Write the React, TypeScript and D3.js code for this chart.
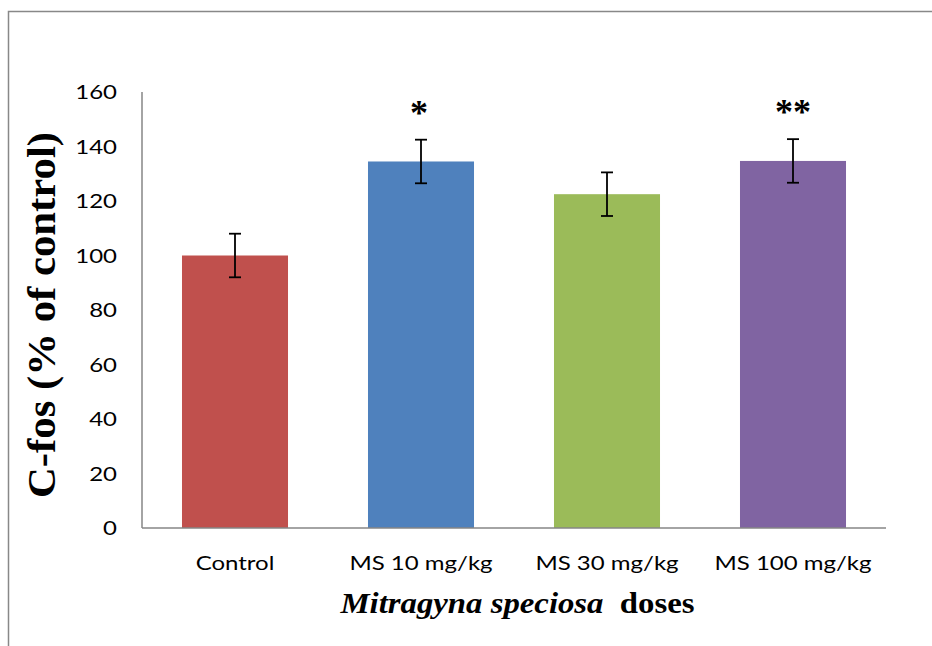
import React from "react";
import * as d3 from "d3";

const categories = ["Control", "MS 10 mg/kg", "MS 30 mg/kg", "MS 100 mg/kg"];
const means = [100, 134.5, 122.5, 134.7];
const errors = [8, 8, 8, 8];
const significance = ["", "*", "", "**"];
const colors = ["#C0504D", "#4F81BD", "#9BBB59", "#8064A2"];
const yTicks = [0, 20, 40, 60, 80, 100, 120, 140, 160];

export default function App() {
  const W = 932, H = 646;
  const left = 142, right = 886, top = 92, bottom = 528;
  const x = d3.scaleBand<string>().domain(categories).range([left, right]).paddingInner(0.43).paddingOuter(0.215);
  const y = d3.scaleLinear().domain([0, 160]).range([bottom, top]);
  const tickFont = "Lato, 'Open Sans', sans-serif";
  const serif = "'Liberation Serif', 'Times New Roman', serif";
  const axisColor = "#868686";
  const sx = 1.2;
  return (
    <div style={{ position: "fixed", left: 0, top: 0 }}>
      <svg width={W} height={H} style={{ display: "block" }}>
        <rect x={0} y={0} width={W} height={H} fill="#fff" />
        <rect x={8.5} y={11.5} width={W + 20} height={H + 20} fill="none" stroke="#888" strokeWidth={1.5} />
        {categories.map((c, i) => (
          <rect key={c} x={x(c)} y={y(means[i])} width={x.bandwidth()} height={y(0) - y(means[i])} fill={colors[i]} />
        ))}
        {categories.map((c, i) => {
          const cx = (x(c) as number) + x.bandwidth() / 2;
          const y1 = y(means[i] + errors[i]);
          const y2 = y(means[i] - errors[i]);
          return (
            <g key={c + "e"} stroke="#000" strokeWidth={1.8}>
              <line x1={cx} x2={cx} y1={y1} y2={y2} />
              <line x1={cx - 6} x2={cx + 6} y1={y1} y2={y1} />
              <line x1={cx - 6} x2={cx + 6} y1={y2} y2={y2} />
            </g>
          );
        })}
        {categories.map((c, i) => (
          <text key={c + "s"} x={(x(c) as number) + x.bandwidth() / 2 + (i === 1 ? -2 : 0)} y={y(means[i] + errors[i]) - 15}
            textAnchor="middle" fontFamily={serif} fontWeight="bold" fontSize={36}>
            {significance[i]}
          </text>
        ))}
        <line x1={left} x2={left} y1={top} y2={bottom} stroke={axisColor} strokeWidth={1.5} />
        <line x1={left} x2={right} y1={bottom} y2={bottom} stroke={axisColor} strokeWidth={1.5} />
        {yTicks.map((t) => (
          <text key={t} transform={`translate(117,${y(t)}) scale(${sx},1)`} dy="0.36em" textAnchor="end" fontFamily={tickFont} fontSize={20} fill="#000">
            {t}
          </text>
        ))}
        {categories.map((c) => (
          <text key={c + "l"} transform={`translate(${(x(c) as number) + x.bandwidth() / 2},563) scale(${sx},1)`} dy="0.36em" textAnchor="middle" fontFamily={tickFont} fontSize={20} fill="#000">
            {c}
          </text>
        ))}
        <text transform="translate(517.5,613) scale(1.15,1)" textAnchor="middle" fontFamily={serif} fontWeight="bold" fontSize={28.5} fill="#000">
          <tspan fontStyle="italic">Mitragyna speciosa</tspan>
          <tspan>{"\u00a0 doses"}</tspan>
        </text>
        <text transform="translate(55,315) rotate(-90)" textAnchor="middle" fontFamily={serif} fontWeight="bold" fontSize={39} textLength={366} lengthAdjust="spacingAndGlyphs" fill="#000">
          C-fos (% of control)
        </text>
      </svg>
    </div>
  );
}
